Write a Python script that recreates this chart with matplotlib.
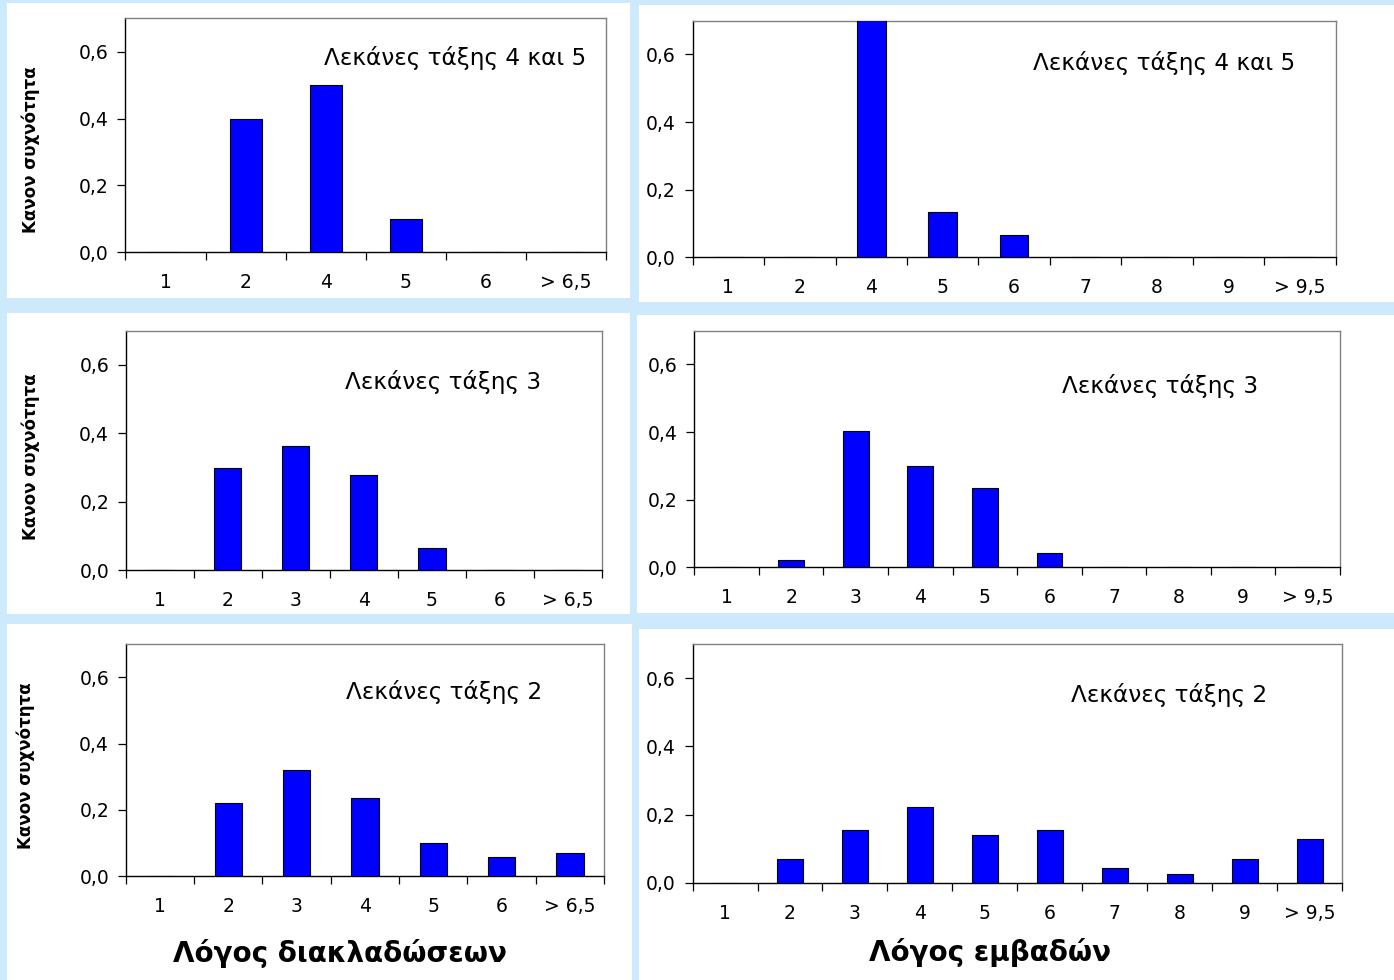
import matplotlib
matplotlib.use("Agg")
import matplotlib.pyplot as plt
from matplotlib.patches import Rectangle
from matplotlib.ticker import FixedLocator, FuncFormatter

# ---------------- data ----------------
cats_branch_45 = ['1', '2', '4', '5', '6', '> 6,5']
branch_45 = [0.0, 0.40, 0.50, 0.10, 0.0, 0.0]

cats_area_45 = ['1', '2', '4', '5', '6', '7', '8', '9', '> 9,5']
area_45 = [0.0, 0.0, 0.80, 0.133, 0.067, 0.0, 0.0, 0.0, 0.0]

cats_branch = ['1', '2', '3', '4', '5', '6', '> 6,5']
branch_3 = [0.0, 0.300, 0.363, 0.278, 0.064, 0.0, 0.0]
branch_2 = [0.0, 0.221, 0.320, 0.236, 0.099, 0.057, 0.069]

cats_area = ['1', '2', '3', '4', '5', '6', '7', '8', '9', '> 9,5']
area_3 = [0.0, 0.022, 0.402, 0.299, 0.235, 0.041, 0.0, 0.0, 0.0, 0.0]
area_2 = [0.0, 0.071, 0.154, 0.223, 0.139, 0.154, 0.042, 0.027, 0.071, 0.127]

titles = ['Λεκάνες τάξης 4 και 5', 'Λεκάνες τάξης 3', 'Λεκάνες τάξης 2']
ylabel = 'Κανον συχνότητα'
xlabel_left = 'Λόγος διακλαδώσεων'
xlabel_right = 'Λόγος εμβαδών'
yticks = [0.0, 0.2, 0.4, 0.6]

# ---------------- figure ----------------
W, H = 1394, 980
plt.rcParams['font.family'] = ['DejaVu Sans']
fig = plt.figure(figsize=(W / 100, H / 100), dpi=100, facecolor='#cdeafc')


def fx(px):
    return px / W


def fy(py):
    return 1 - py / H


# white panels (left, top, right, bottom) in pixels
panels = [
    (7, 3, 630, 298), (639, 5, 1394, 302),
    (7, 313, 630, 614), (637, 315, 1394, 613),
    (7, 624, 632, 980), (639, 629, 1394, 980),
]
for (l, t, r, b) in panels:
    fig.patches.append(Rectangle((fx(l), fy(b)), fx(r - l), (b - t) / H,
                                 transform=fig.transFigure, facecolor='white',
                                 edgecolor='none', zorder=-5))

# axes boxes (left, top, right, bottom) in pixels
boxes = [
    (125.4, 18.3, 606, 252.3), (692.6, 20.7, 1335.7, 257.3),
    (125.7, 330.7, 602, 570.3), (694.3, 330.7, 1340, 567.3),
    (125.7, 644, 604, 876.3), (692.6, 644.3, 1342, 882.7),
]
series = [
    (cats_branch_45, branch_45, titles[0], 0.685, 0.830),
    (cats_area_45, area_45, titles[0], 0.733, 0.821),
    (cats_branch, branch_3, titles[1], 0.666, 0.787),
    (cats_area, area_3, titles[1], 0.721, 0.766),
    (cats_branch, branch_2, titles[2], 0.666, 0.795),
    (cats_area, area_2, titles[2], 0.734, 0.787),
]

for (l, t, r, b), (cats, vals, title, tx, ty) in zip(boxes, series):
    ax = fig.add_axes([fx(l), fy(b), fx(r - l), (b - t) / H])
    ax.set_facecolor('white')
    n = len(cats)
    x = list(range(n))
    ax.bar(x, vals, width=0.4, color='#0000ff', edgecolor='black', linewidth=0.8, zorder=3)
    ax.set_xlim(-0.5, n - 0.5)
    ax.set_ylim(0, 0.7)
    ax.set_yticks(yticks)
    ax.yaxis.set_major_formatter(FuncFormatter(lambda v, p: f'{v:.1f}'.replace('.', ',')))
    ax.xaxis.set_major_locator(FixedLocator([i - 0.5 for i in range(n + 1)]))
    ax.xaxis.set_major_formatter(FuncFormatter(lambda v, p: ''))
    ax.xaxis.set_minor_locator(FixedLocator(x))
    ax.set_xticklabels(cats, minor=True)
    ax.tick_params(axis='x', which='major', direction='out', length=6, width=0.9, color='black')
    ax.tick_params(axis='x', which='minor', length=0, pad=15, labelsize=13.5)
    ax.tick_params(axis='y', direction='out', length=6, width=0.9, pad=6, labelsize=13.5)
    for s in ('top', 'right'):
        ax.spines[s].set_color('#808080')
        ax.spines[s].set_linewidth(1.0)
    for s in ('left', 'bottom'):
        ax.spines[s].set_color('black')
        ax.spines[s].set_linewidth(1.0)
    ax.text(tx, ty, title, transform=ax.transAxes, ha='center', va='center', fontsize=16.7)

# y labels
for (px, py) in [(31, 150), (30.5, 457), (26, 766)]:
    fig.text(fx(px), fy(py), ylabel, rotation=90, ha='center', va='center',
             fontsize=12, fontweight='bold')

fig.text(fx(340), fy(953), xlabel_left, ha='center', va='center', fontsize=20, fontweight='bold')
fig.text(fx(990), fy(952), xlabel_right, ha='center', va='center', fontsize=20, fontweight='bold')

fig.savefig('out.png', dpi=100, facecolor=fig.get_facecolor())
